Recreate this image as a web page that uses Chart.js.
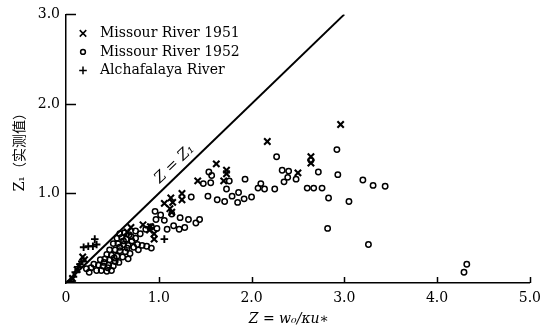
<!DOCTYPE html>
<html><head><meta charset="utf-8">
<script src="https://cdn.jsdelivr.net/npm/chart.js@4.4.1/dist/chart.umd.min.js"></script>
<style>html,body{margin:0;padding:0;background:#fff}#wrap{width:548px;height:332px}</style>
</head><body><div id="wrap"><canvas id="c" width="548" height="332"></canvas></div>
<script>
// ---- data ----
const seriesLabels = ['Missour River 1951', 'Missour River 1952', 'Alchafalaya River'];

const mo1951X = [2.96,2.64,2.64,2.50,2.17,1.62,1.73,1.73,1.70,1.42,1.25,1.25,1.13,1.15,1.06,1.12,1.14,0.95,0.95,0.83,0.91,0.90,0.70,0.66,0.18,0.20,0.12,0.07];
const mo1951Y = [1.77,1.41,1.34,1.23,1.58,1.33,1.26,1.22,1.14,1.14,1.00,0.93,0.95,0.90,0.89,0.83,0.79,0.55,0.49,0.65,0.63,0.59,0.62,0.57,0.29,0.26,0.15,0.05];

const mo1952X = [
  2.92,2.64,2.33,2.40,2.39,2.35,2.48,2.72,2.93,2.60,2.67,2.76,3.20,3.31,3.44,2.83,3.05,2.82,3.26,4.32,4.29,
  2.27,1.54,1.57,1.76,1.56,1.48,1.93,1.73,1.86,1.79,1.53,1.63,1.71,1.85,1.92,2.00,2.07,2.10,2.14,2.25,
  1.35,1.14,0.96,1.02,1.06,0.97,1.23,1.32,1.44,1.40,1.16,1.28,1.22,1.09,0.98,0.92,0.86,0.80,0.75,
  0.22,0.27,0.33,0.38,0.44,0.49,
  0.30,0.35,0.40,0.46,0.51,
  0.37,0.42,0.47,0.53,0.57,
  0.44,0.49,0.55,0.61,0.67,
  0.47,0.53,0.58,0.64,0.69,
  0.51,0.56,0.62,0.67,0.73,0.77,0.82,0.87,0.92,
  0.55,0.60,0.65,0.71,
  0.58,0.63,0.68,
  0.62,0.70,0.75,0.66,0.58,0.78,0.41,0.25,0.52,0.45
];
const mo1952Y = [
  1.49,1.37,1.26,1.25,1.18,1.13,1.16,1.24,1.21,1.06,1.06,1.06,1.15,1.09,1.08,0.95,0.91,0.61,0.43,0.21,0.12,
  1.41,1.24,1.20,1.14,1.12,1.11,1.16,1.05,1.01,0.97,0.97,0.93,0.91,0.90,0.94,0.96,1.06,1.11,1.05,1.05,
  0.96,0.77,0.80,0.76,0.70,0.71,0.73,0.71,0.71,0.67,0.64,0.62,0.60,0.60,0.61,0.63,0.60,0.55,0.58,
  0.16,0.17,0.14,0.14,0.13,0.14,
  0.21,0.20,0.19,0.20,0.19,
  0.26,0.27,0.26,0.24,0.23,
  0.32,0.31,0.30,0.29,0.27,
  0.37,0.37,0.36,0.35,0.33,
  0.44,0.44,0.43,0.42,0.40,0.43,0.42,0.41,0.39,
  0.50,0.51,0.49,0.47,
  0.55,0.56,0.54,
  0.47,0.52,0.50,0.39,0.40,0.37,0.23,0.12,0.28,0.17
];

const atchX = [0.31,0.19,0.24,0.29,0.33,0.15,0.13,0.10,0.08,0.05,1.06,0.17];
const atchY = [0.49,0.40,0.41,0.41,0.43,0.21,0.18,0.12,0.07,0.02,0.49,0.24];

const refLineX = [0, 3];
const refLineY = [0, 3];
const refLineLabel = 'Z = Z\u2081';
const refLabelAt = [1.17, 1.33];

const xTickValues = [0, 1, 2, 3, 4, 5];
const xTickLabels = ['0', '1.0', '2.0', '3.0', '4.0', '5.0'];
const yTickValues = [0, 1, 2, 3];
const yTickLabels = ['', '1.0', '2.0', '3.0'];

const xTitle = 'Z = w\u2080/\u03BAu\u2217';
const yTitle = 'Z\u2081\uFF08\u5B9E\u6D4B\u503C\uFF09';

// ---- chart ----
const FONT = '"DejaVu Serif", "Noto Sans CJK SC", serif';
const pts = (xs, ys) => xs.map((x, i) => ({x, y: ys[i]}));

const inwardTicks = {
  id: 'inwardTicks',
  afterDraw(chart) {
    const {ctx, chartArea: a, scales: {x, y}} = chart;
    ctx.save();
    ctx.strokeStyle = '#000';
    ctx.lineWidth = 1.5;
    yTickValues.forEach(v => {
      if (v === 0) return;
      const py = Math.round(y.getPixelForValue(v)) + 0.5;
      ctx.beginPath(); ctx.moveTo(a.left, py); ctx.lineTo(a.left + 10, py); ctx.stroke();
    });
    xTickValues.forEach(v => {
      if (v === 0) return;
      const px = Math.round(x.getPixelForValue(v)) + 0.5;
      ctx.beginPath(); ctx.moveTo(px, a.bottom); ctx.lineTo(px, a.bottom - 6); ctx.stroke();
    });
    // x axis title
    ctx.fillStyle = '#000';
    ctx.font = 'italic 14px ' + FONT;
    ctx.textAlign = 'center';
    ctx.textBaseline = 'middle';
    ctx.fillText(xTitle, (a.left + a.right) / 2 - 9, 319);
    // reference line label
    const x0 = x.getPixelForValue(refLineX[0]), y0 = y.getPixelForValue(refLineY[0]);
    const x1 = x.getPixelForValue(refLineX[1]), y1 = y.getPixelForValue(refLineY[1]);
    const ang = Math.atan2(y1 - y0, x1 - x0);
    ctx.save();
    ctx.translate(x.getPixelForValue(refLabelAt[0]), y.getPixelForValue(refLabelAt[1]));
    ctx.rotate(ang);
    ctx.font = 'italic 15px ' + FONT;
    ctx.fillText(refLineLabel, 0, 0);
    ctx.restore();
    // legend
    const styles = [
      {pointStyle: 'crossRot', radius: 4.6, borderWidth: 2.1},
      {pointStyle: 'circle', radius: 2.4, borderWidth: 1.5},
      {pointStyle: 'cross', radius: 3.8, borderWidth: 1.9}
    ];
    const rowY = [19, 37.5, 56];
    ctx.font = '14px ' + FONT;
    ctx.textAlign = 'left';
    seriesLabels.forEach((lab, i) => {
      const cy = a.top + rowY[i];
      ctx.strokeStyle = '#000';
      ctx.fillStyle = 'rgba(0,0,0,0)';
      Chart.helpers.drawPoint(ctx, Object.assign({rotation: 0}, styles[i]), a.left + 17, cy);
      ctx.fillStyle = '#000';
      ctx.fillText(lab, a.left + 34, cy);
    });
    ctx.restore();
  }
};

new Chart(document.getElementById('c'), {
  type: 'scatter',
  data: {
    datasets: [
      {type: 'line', label: refLineLabel, data: pts(refLineX, refLineY), borderColor: '#000', borderWidth: 2,
       pointRadius: 0, fill: false, tension: 0},
      {label: seriesLabels[0], data: pts(mo1951X, mo1951Y), pointStyle: 'crossRot', pointRadius: 4.5,
       borderColor: '#000', borderWidth: 2.1, backgroundColor: 'rgba(0,0,0,0)'},
      {label: seriesLabels[1], data: pts(mo1952X, mo1952Y), pointStyle: 'circle', pointRadius: 2.7,
       borderColor: '#000', borderWidth: 1.5, backgroundColor: 'rgba(255,255,255,0)'},
      {label: seriesLabels[2], data: pts(atchX, atchY), pointStyle: 'cross', pointRadius: 3.8,
       borderColor: '#000', borderWidth: 1.9, backgroundColor: 'rgba(0,0,0,0)'}
    ]
  },
  options: {
    responsive: false,
    animation: false,
    devicePixelRatio: 1,
    layout: {padding: {top: 13, right: 16, left: 0, bottom: 0}},
    plugins: {legend: {display: false}, tooltip: {enabled: false}},
    scales: {
      x: {
        type: 'linear', min: 0, max: 5,
        afterBuildTicks: s => { s.ticks = xTickValues.map(v => ({value: v})); },
        afterFit: s => { s.height = 49; },
        grid: {display: false, drawTicks: false},
        border: {display: true, color: '#000', width: 1.5},
        ticks: {padding: 7, color: '#000', font: {family: FONT, size: 14},
                maxRotation: 0, autoSkip: false,
                callback: v => xTickLabels[xTickValues.indexOf(v)]}
      },
      y: {
        type: 'linear', min: 0, max: 3,
        afterBuildTicks: s => { s.ticks = yTickValues.map(v => ({value: v})); },
        afterFit: s => { s.width = 66; },
        grid: {display: false, drawTicks: false},
        border: {display: true, color: '#000', width: 1.5},
        ticks: {padding: 6, color: '#000', font: {family: FONT, size: 14},
                callback: v => yTickLabels[yTickValues.indexOf(v)]},
        title: {display: true, text: yTitle, color: '#000', font: {family: FONT, size: 14},
                padding: {top: 12, bottom: 0}}
      }
    }
  },
  plugins: [inwardTicks]
});
</script>
</body></html>
